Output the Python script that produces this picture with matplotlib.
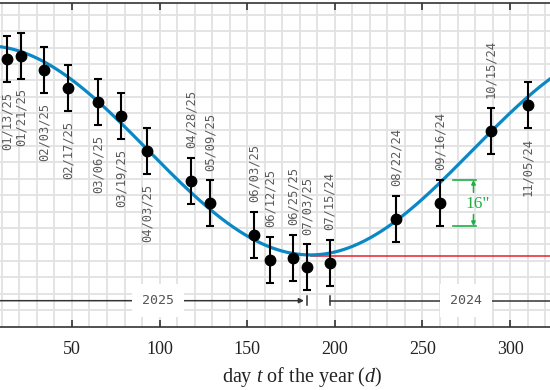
import numpy as np
import matplotlib
matplotlib.use("Agg")
import matplotlib.pyplot as plt
from matplotlib.ticker import MultipleLocator, FixedLocator

# ---------------- data ----------------
dates = ["01/13/25", "01/21/25", "02/03/25", "02/17/25", "03/06/25", "03/19/25",
         "04/03/25", "04/28/25", "05/09/25", "06/03/25", "06/12/25", "06/25/25",
         "07/03/25", "07/15/24", "08/22/24", "09/16/24", "10/15/24", "11/05/24"]
day = [13, 21, 34, 48, 65, 78, 93, 118, 129, 154, 163, 176, 184,
       197, 235, 260, 289, 310]
diam = [1956.3, 1957.6, 1952.5, 1946.2, 1941.4, 1936.5, 1924.3, 1914.2, 1906.3,
        1895.4, 1886.6, 1887.2, 1884.0, 1885.7, 1900.8, 1906.4, 1931.4, 1940.5]
err = [8] * 18
label_side = ["below"] * 7 + ["above"] * 10 + ["below"]

# fitted model curve parameters
mean_diam = 1924.70
amp = 36.35
aphelion_day = 186.0
period = 370.0
aphelion_level = 1888.0

xticks = [50, 100, 150, 200, 250, 300]
years = ["2025", "2024"]
year_label_x = [99.0, 275.0]
err_label = '16"'

# ---------------- style ----------------
plt.rcParams["mathtext.fontset"] = "custom"
plt.rcParams["mathtext.rm"] = "Liberation Serif"
plt.rcParams["mathtext.it"] = "Liberation Serif:italic"

fig = plt.figure(figsize=(5.5, 3.9), dpi=100)
ax = fig.add_axes([0, 63.5 / 390, 1, 323.8 / 390])
xmin, xmax = 8.96, 322.76
ymin, ymax = 1863.48, 1976.0
ax.set_xlim(xmin, xmax)
ax.set_ylim(ymin, ymax)

for s in ("left", "right"):
    ax.spines[s].set_visible(False)
for s in ("top", "bottom"):
    ax.spines[s].set_color("#333333")
    ax.spines[s].set_linewidth(1.2)

ax.xaxis.set_major_locator(FixedLocator(xticks))
ax.xaxis.set_minor_locator(MultipleLocator(10))
ax.tick_params(axis="x", which="major", direction="in", length=5, width=1.2,
               color="#333333", top=True, bottom=True, labeltop=False,
               labelsize=13, labelcolor="#222222", pad=10.5)
ax.tick_params(axis="x", which="minor", length=0)
for lab in ax.get_xticklabels():
    lab.set_fontfamily("Liberation Serif")

ygrid = 1971.83 - 5.701 * np.arange(19)
ax.set_yticks(ygrid)
ax.tick_params(axis="y", length=0, labelleft=False)
ax.grid(True, which="both", axis="x", color="#e2e2e2", lw=1.3, zorder=0)
ax.grid(True, which="major", axis="y", color="#e2e2e2", lw=1.3, zorder=0)
ax.set_axisbelow(True)

# model curve
t = np.linspace(xmin - 5, xmax + 5, 600)
model = mean_diam - amp * np.cos(2 * np.pi * (t - aphelion_day) / period)
ax.plot([aphelion_day + 0.5, xmax + 5], [aphelion_level, aphelion_level],
        color="#e8202a", lw=1.1, zorder=2)
ax.plot(t, model, color="#0a88c6", lw=2.3, zorder=3)

# data points
ax.errorbar(day, diam, yerr=err, fmt="o", color="black", ms=7.5, elinewidth=1.5,
            capsize=2.8, capthick=1.5, zorder=5)

# date labels
for d, v, e, s, lab in zip(day, diam, err, label_side, dates):
    if s == "below":
        ax.annotate(lab, xy=(d, v - e), xytext=(0, -7), textcoords="offset points",
                    rotation=90, ha="center", va="top", fontsize=8.7,
                    family="DejaVu Sans Mono", color="#5a5a5a")
    else:
        ax.annotate(lab, xy=(d, v + e), xytext=(0, 7), textcoords="offset points",
                    rotation=90, ha="center", va="bottom", fontsize=8.7,
                    family="DejaVu Sans Mono", color="#5a5a5a")

# year arrows
yline = 1872.45
ybar = (1870.96, 1874.09)
end25 = day[dates.index("07/03/25")]
start24 = day[dates.index("07/15/24")]
ax.annotate("", xy=(end25 - 1.6, yline), xytext=(xmin - 5, yline),
            arrowprops=dict(arrowstyle="-|>", lw=1.1, color="#333333",
                            mutation_scale=7, shrinkA=0, shrinkB=0), zorder=4)
ax.plot([end25, end25], ybar, color="#333333", lw=1.1, zorder=4)
ax.plot([start24, start24], ybar, color="#333333", lw=1.1, zorder=4)
ax.plot([start24, xmax + 5], [yline, yline], color="#333333", lw=1.1, zorder=4,
        clip_on=True)
for yl, xl in zip(years, year_label_x):
    ax.text(xl, yline, yl, ha="center", va="center", fontsize=9.5,
            family="DejaVu Sans Mono", color="#555555", zorder=6,
            bbox=dict(boxstyle="square,pad=0.75", fc="white", ec="none"))

# green error-size annotation
i = dates.index("09/16/24")
green = "#1fae46"
top, bot = diam[i] + err[i], diam[i] - err[i]
ax.plot([267.6, 280.5], [top, top], color=green, lw=1.2, zorder=4)
ax.plot([267.6, 280.5], [bot, bot], color=green, lw=1.2, zorder=4)
ax.annotate("", xy=(279.1, top), xytext=(279.1, top - 4.3),
            arrowprops=dict(arrowstyle="-|>", lw=1.1, color=green,
                            mutation_scale=6, shrinkA=0, shrinkB=0))
ax.annotate("", xy=(279.1, bot), xytext=(279.1, bot + 4.0),
            arrowprops=dict(arrowstyle="-|>", lw=1.1, color=green,
                            mutation_scale=6, shrinkA=0, shrinkB=0))
ax.text(281.7, diam[i] - 0.3, err_label, ha="center", va="center", fontsize=12.5,
        family="Liberation Serif", color=green, zorder=6)

ax.set_xlabel(r"day $t$ of the year ($d$)", fontsize=14.5,
              family="Liberation Serif", color="#222222")
ax.xaxis.set_label_coords(302 / 550, -(377 - 326.5) / 323.8)
ax.xaxis.label.set_va("center")

fig.savefig("out.png", dpi=100)
